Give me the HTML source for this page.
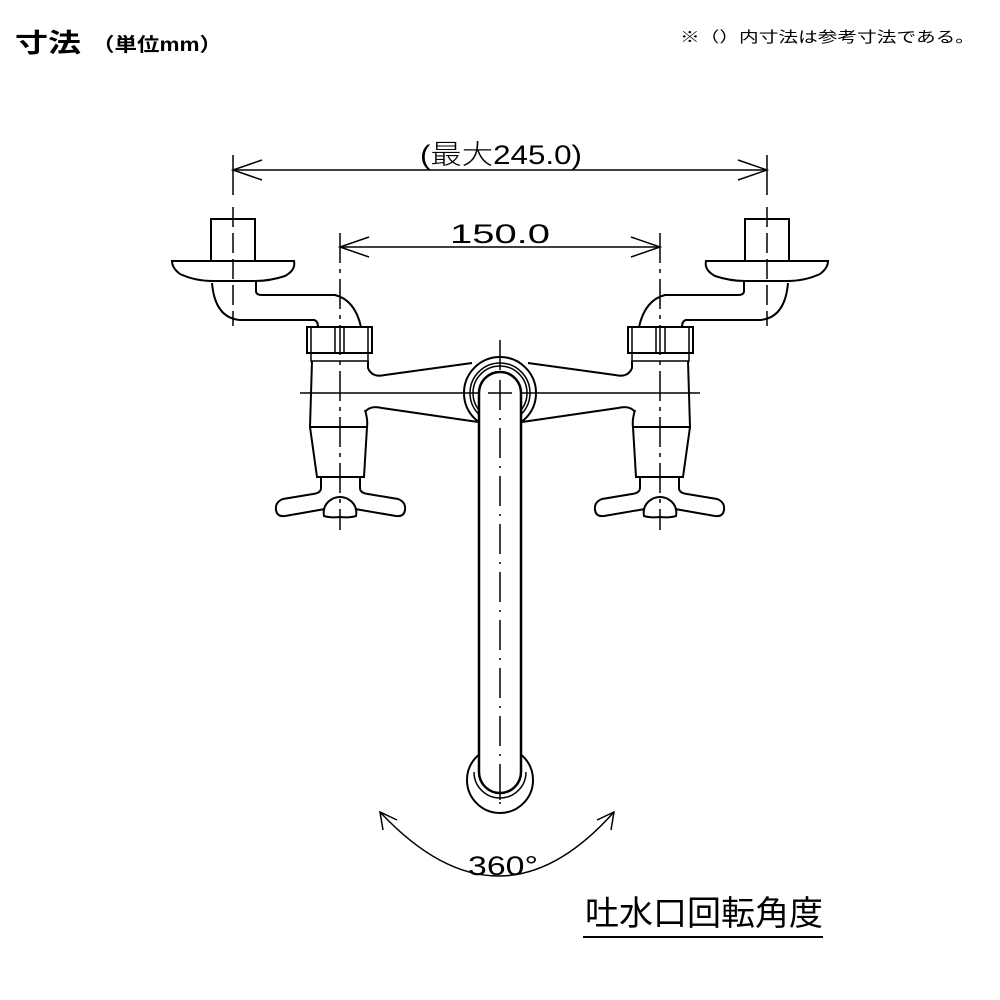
<!DOCTYPE html>
<html><head><meta charset="utf-8"><style>
html,body{margin:0;padding:0;background:#fff;}
svg{display:block;}
.t{font-family:"Liberation Sans","Noto Sans CJK JP",sans-serif;}
</style></head><body>
<svg width="1000" height="1000" viewBox="0 0 1000 1000" xmlns="http://www.w3.org/2000/svg">
<text class="t" x="15" y="52" font-size="26" font-weight="bold" textLength="66" lengthAdjust="spacingAndGlyphs">寸法</text>
<text class="t" x="92" y="51" font-size="19" font-weight="bold" textLength="130" lengthAdjust="spacingAndGlyphs">（単位mm）</text>
<text class="t" x="680" y="42" font-size="15" textLength="295" lengthAdjust="spacingAndGlyphs">※（）内寸法は参考寸法である。</text>

<g fill="none" stroke="#000" stroke-width="1.5">
<!-- dimension lines -->
<line x1="233" y1="170" x2="767" y2="170"/>
<polyline points="262,160 233,170 262,180"/>
<polyline points="738,160 767,170 738,180"/>
<line x1="233" y1="155" x2="233" y2="195"/>
<line x1="767" y1="155" x2="767" y2="195"/>
<line x1="340" y1="247" x2="660" y2="247"/>
<polyline points="369,237 340,247 369,257"/>
<polyline points="631,237 660,247 631,257"/>
<line x1="300" y1="393" x2="700" y2="393"/>
<line x1="500" y1="340" x2="500" y2="800" stroke-dasharray="30,8,2,8"/>

<!-- left half -->
<g id="half">
<line x1="233" y1="207" x2="233" y2="326" stroke-dasharray="20,6"/>
<line x1="340" y1="233" x2="340" y2="530" stroke-dasharray="30,6,4,6"/>
<rect x="211" y="219" width="44" height="42" stroke-width="2"/>
<path d="M172,261 H294 Q296,270 285,276 Q270,281 255,281 H213 Q195,281 180,274 Q172,268 172,261 Z" stroke-width="2"/>
<path d="M256,281 V291 Q256,295 262,295 H335 Q355,300 361,327" stroke-width="2"/>
<path d="M212,283 Q215,318 240,320 H314 Q318,321 318,327" stroke-width="2"/>
<rect x="307" y="327" width="65" height="26" stroke-width="2"/>
<line x1="311" y1="327" x2="311" y2="353"/>
<line x1="368" y1="327" x2="368" y2="353"/>
<line x1="335" y1="327" x2="335" y2="353"/>
<line x1="344" y1="327" x2="344" y2="353"/>
<rect x="311" y="353" width="57" height="8"/>
<path d="M312,361 L310,427 L317,477 H364 L367,427 Q368,420 365,410" stroke-width="2"/>
<line x1="310" y1="427" x2="367" y2="427" stroke-width="2"/>
<path d="M368,361 V368 Q372,378 385,375 L472,363" stroke-width="2"/>
<path d="M365,412 Q370,405 382,408 L478,422" stroke-width="2"/>
<path d="M321,477 V488 Q321,493 313,494 L283,499 Q275,502 276,510 Q277,517 285,516 L325,509" stroke-width="2"/>
<path d="M360,477 V488 Q360,493 368,494 L398,499 Q406,502 405,510 Q404,517 396,516 L355,509" stroke-width="2"/>
<path d="M324,516 Q322,505 332,499 Q340,495 348,499 Q358,505 356,516 Q350,518 340,517 Q330,518 324,516 Z" stroke-width="2"/>
</g>
<use href="#half" transform="translate(1000,0) scale(-1,1)"/>

<!-- spout -->
<circle cx="500" cy="393" r="36" stroke-width="2"/>
<circle cx="500" cy="393" r="30"/>
<circle cx="500" cy="393" r="27"/>
<circle cx="500" cy="780" r="33" stroke-width="2"/>
<path d="M479,393 A21,21 0 0 1 521,393 V772 A21,21 0 0 1 479,772 Z" fill="#fff" stroke-width="2.5"/>
<path d="M474,772 A26,26 0 0 0 526,772" />
<line x1="500" y1="380" x2="500" y2="810" stroke-dasharray="30,8,2,8"/>
<line x1="488" y1="393" x2="512" y2="393"/>

<!-- rotation arc -->
<path d="M380,812 Q500,940 614,812"/>
<polyline points="383,830 380,812 397,820"/>
<polyline points="597,820 614,812 611,830"/>
<line x1="583" y1="937" x2="823" y2="937" stroke-width="2"/>
</g>

<g class="t" fill="#000">
<text x="420" y="164" font-size="27" textLength="162" lengthAdjust="spacingAndGlyphs" font-weight="300">(最大245.0)</text>
<text x="450" y="243" font-size="27" textLength="100" lengthAdjust="spacingAndGlyphs">150.0</text>
<text x="468" y="875" font-size="27" textLength="70" lengthAdjust="spacingAndGlyphs">360°</text>
<text x="585" y="925" font-size="34" textLength="238" lengthAdjust="spacingAndGlyphs">吐水口回転角度</text>
</g>
</svg>
</body></html>
